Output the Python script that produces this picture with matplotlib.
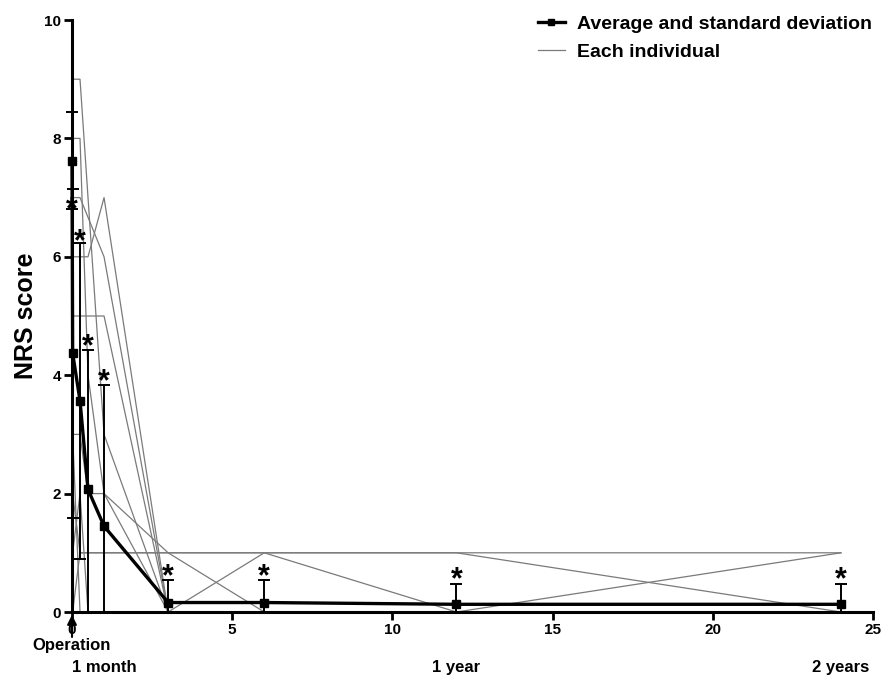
import numpy as np
import matplotlib
matplotlib.use("Agg")
import matplotlib.pyplot as plt
from matplotlib.lines import Line2D

plt.rcParams['font.family'] = ['Liberation Sans', 'DejaVu Sans']

# time points (months): pre-op, day 1, 1 week, 2 weeks, 1 month, 3, 6, 12, 24
times = [0.0, 0.02, 0.25, 0.5, 1.0, 3.0, 6.0, 12.0, 24.0]
mean_nrs = [7.62, 4.37, 3.57, 2.07, 1.45, 0.16, 0.16, 0.13, 0.13]
sd_nrs = [0.82, 2.78, 2.67, 2.35, 2.38, 0.38, 0.38, 0.35, 0.35]
star_y = [6.93, None, 6.40, 4.62, 4.03, 0.74, 0.74, 0.68, 0.68]
star_x = [0.0, None, 0.25, 0.5, 1.0, 3.0, 6.0, 12.0, 24.0]

nan = np.nan
subj_A = [8, 9, 9, nan, 3, 0, 0, 0, 0]
subj_B = [7, 8, 8, 4, 2, 0, 0, 0, 0]
subj_C = [8, 7, 7, nan, 6, 0, 0, 0, 0]
subj_D = [7, 6, 6, 6, 7, 0, 0, 0, 0]
subj_E = [8, 5, 5, 5, 5, 0, 0, 0, 0]
subj_F = [7, 3, 3, 2, 2, 1, 0, 0, 0]
subj_G = [8, 2, 1, 1, 1, 1, 1, 1, 1]
subj_H = [7, 1, 2, 0, 0, 0, 1, 0, 1]
subj_I = [8, 0, 1, 1, 1, 1, 1, 1, 0]
subj_J = [9, 3, 0, 0, 0, 0, 0, 0, 0]
subjects = [subj_A, subj_B, subj_C, subj_D, subj_E, subj_F, subj_G, subj_H, subj_I, subj_J]

xticks = [0, 5, 10, 15, 20, 25]
yticks = [0, 2, 4, 6, 8, 10]
bottom_labels = [(1.0, "1 month"), (12.0, "1 year"), (24.0, "2 years")]

fig = plt.figure(figsize=(8.83, 6.75), dpi=100)
ax = fig.add_axes([72/883, 1-612/675, (873-72)/883, (612-20)/675])

t = np.array(times)
for s in subjects:
    v = np.array(s, dtype=float)
    m = ~np.isnan(v)
    ax.plot(t[m], v[m], color='#7a7a7a', lw=0.9, clip_on=False, zorder=2)

mean = np.array(mean_nrs)
sd = np.array(sd_nrs)
lower = np.minimum(sd, mean)
ax.errorbar(t, mean, yerr=[lower, sd], fmt='none', ecolor='black', elinewidth=1.4,
            capsize=4, capthick=1.4, clip_on=False, zorder=3)
ax.plot(t, mean, color='black', lw=2.4, marker='s', markersize=6, clip_on=False, zorder=4)

fs_star = 22
for x, y in zip(star_x, star_y):
    if y is None:
        continue
    ax.annotate('*', xy=(x, y), xytext=(0, -0.55*fs_star), textcoords='offset points',
                ha='center', va='baseline', fontsize=fs_star, fontweight='bold', zorder=5)

ax.set_xlim(0, 25)
ax.set_ylim(0, 10)
ax.set_xticks(xticks)
ax.set_yticks(yticks)
for sp in ['top', 'right']:
    ax.spines[sp].set_visible(False)
for sp in ['left', 'bottom']:
    ax.spines[sp].set_linewidth(2.2)
ax.tick_params(axis='both', width=2, length=6, labelsize=11, pad=2)
for lab in ax.get_xticklabels() + ax.get_yticklabels():
    lab.set_fontweight('bold')
ax.set_ylabel('NRS score', fontsize=18, fontweight='bold', labelpad=4)

# operation arrow
ax.annotate('', xy=(0, 0), xytext=(0, -20), textcoords='offset points',
            xycoords='data', arrowprops=dict(arrowstyle='-|>', color='black', lw=1.5,
                                             mutation_scale=14), annotation_clip=False)
ax.annotate('Operation', xy=(0, 0), xytext=(0, -24), textcoords='offset points',
            ha='center', va='center', fontsize=12, fontweight='bold', annotation_clip=False)
for x, lab in bottom_labels:
    ax.annotate(lab, xy=(x, 0), xytext=(0, -40), textcoords='offset points',
                ha='center', va='center', fontsize=12, fontweight='bold', annotation_clip=False)

handles = [Line2D([0], [0], color='black', lw=2.4, marker='s', markersize=5),
           Line2D([0], [0], color='#7a7a7a', lw=0.9)]
leg = ax.legend(handles, ['Average and standard deviation', 'Each individual'],
                loc='upper right', bbox_to_anchor=(1.02, 1.038), frameon=False,
                prop={'size': 14, 'weight': 'bold'}, handlelength=1.4, handletextpad=0.6,
                labelspacing=0.55)

fig.savefig('out.png', dpi=100)
